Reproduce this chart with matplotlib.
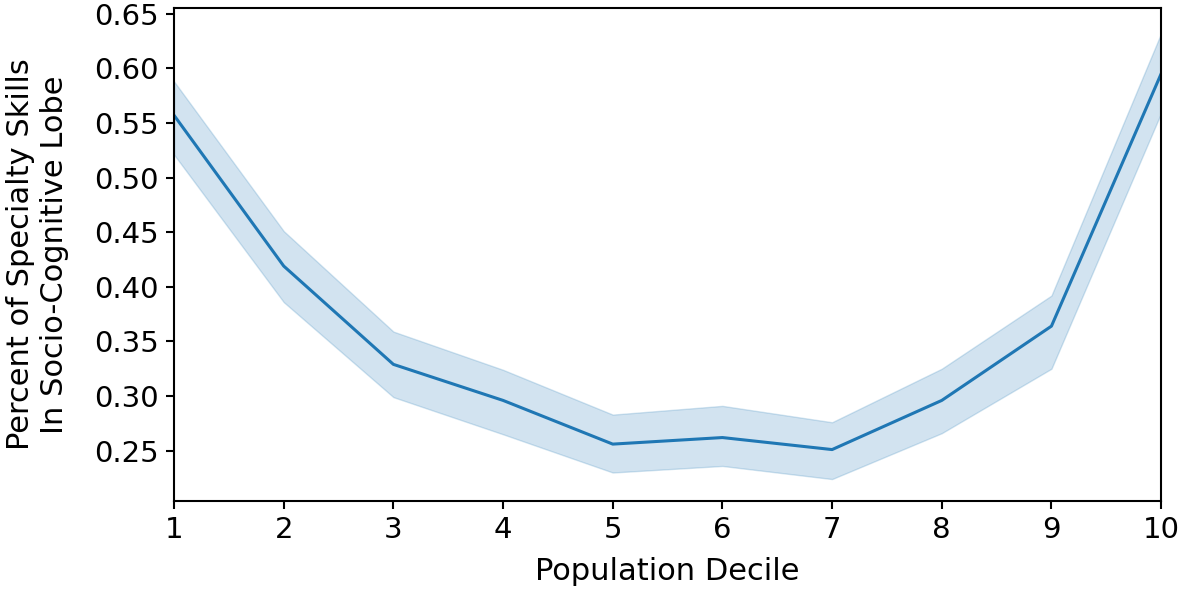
import matplotlib
matplotlib.use("Agg")
import matplotlib.pyplot as plt

deciles = [1, 2, 3, 4, 5, 6, 7, 8, 9, 10]
mean_share = [0.557, 0.419, 0.329, 0.296, 0.256, 0.262, 0.251, 0.296, 0.364, 0.595]
upper_ci = [0.588, 0.451, 0.359, 0.324, 0.283, 0.291, 0.276, 0.325, 0.392, 0.632]
lower_ci = [0.521, 0.386, 0.299, 0.265, 0.230, 0.236, 0.224, 0.266, 0.325, 0.559]

fig = plt.figure(figsize=(11.8, 5.9), dpi=100)
ax = fig.add_axes([0.1475, 0.151, 0.8365, 0.835])
ax.fill_between(deciles, lower_ci, upper_ci, color="#1f77b4", alpha=0.2, linewidth=1)
ax.plot(deciles, mean_share, color="#1f77b4", linewidth=2.2)
ax.set_xlim(1, 10)
ax.set_ylim(0.204, 0.655)
ax.set_xticks(deciles)
ax.set_yticks([0.25, 0.30, 0.35, 0.40, 0.45, 0.50, 0.55, 0.60, 0.65])
ax.set_yticklabels(["0.25", "0.30", "0.35", "0.40", "0.45", "0.50", "0.55", "0.60", "0.65"])
ax.tick_params(labelsize=21, width=1.5, length=6, pad=5)
for s in ax.spines.values():
    s.set_linewidth(1.5)
ax.set_xlabel("Population Decile", fontsize=22, labelpad=9)
ax.set_ylabel("Percent of Specialty Skills\nIn Socio-Cognitive Lobe", fontsize=22, labelpad=18)
fig.savefig("out.png", dpi=100)
